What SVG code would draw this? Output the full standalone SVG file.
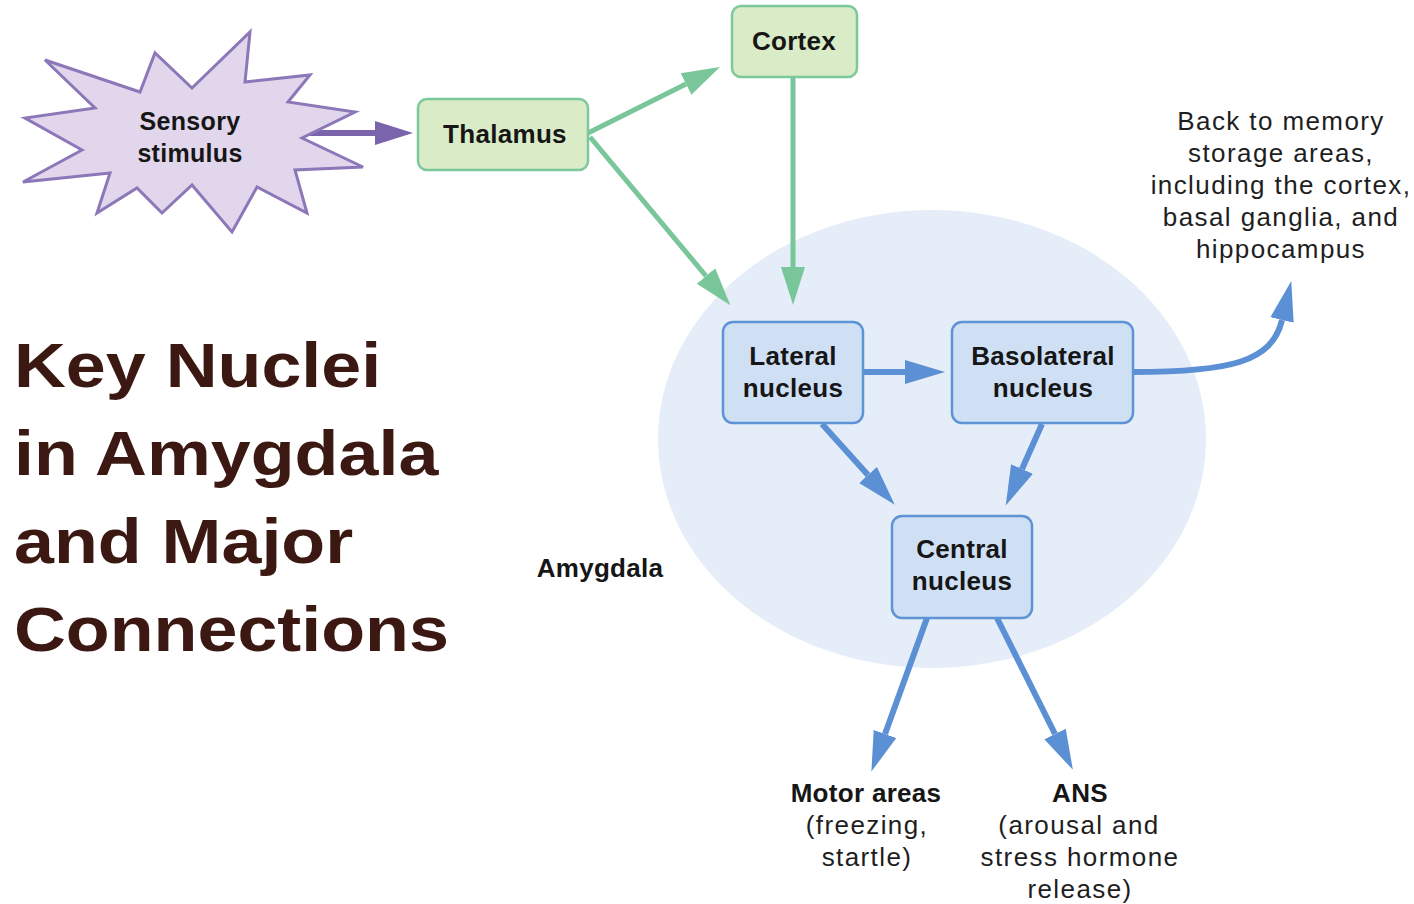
<svg xmlns="http://www.w3.org/2000/svg" width="1414" height="904" viewBox="0 0 1414 904">
  <style>
    .lbl { font-family: "Liberation Sans", Arial, sans-serif; font-weight: bold; font-size: 26px; fill: #161616; text-anchor: middle; letter-spacing: 0.3px; }
    .note { font-family: "Liberation Sans", Arial, sans-serif; font-size: 26px; fill: #1e1e1e; text-anchor: middle; letter-spacing: 1.4px; }
    .title { font-family: "Liberation Sans", Arial, sans-serif; font-weight: bold; font-size: 63px; fill: #3b1912; }
    .gbox { fill: #d9ecc7; stroke: #7cc89b; stroke-width: 2.5; }
    .bbox { fill: #cfe0f5; stroke: #5e93d6; stroke-width: 2.5; }
    .garr { fill: none; stroke: #79c69a; stroke-width: 5; }
    .barr { fill: none; stroke: #5b90d5; stroke-width: 6; }
    .parr { fill: none; stroke: #7a64ac; stroke-width: 6; }
  </style>
  <defs>
    <marker id="headGreen" markerUnits="userSpaceOnUse" markerWidth="40" markerHeight="26" refX="0" refY="13" orient="auto" viewBox="0 0 40 26">
      <path d="M0,1 L38,13 L0,25 z" fill="#79c69a"/>
    </marker>
    <marker id="headBlue" markerUnits="userSpaceOnUse" markerWidth="42" markerHeight="26" refX="0" refY="13" orient="auto" viewBox="0 0 42 26">
      <path d="M0,1 L40,13 L0,25 z" fill="#5b90d5"/>
    </marker>
    <marker id="headPurple" markerUnits="userSpaceOnUse" markerWidth="40" markerHeight="26" refX="0" refY="13" orient="auto" viewBox="0 0 40 26">
      <path d="M0,1 L38,13 L0,25 z" fill="#7a64ac"/>
    </marker>
  </defs>

  <rect width="1414" height="904" fill="#ffffff"/>

  <!-- amygdala region -->
  <g id="amygdala">
    <ellipse cx="932" cy="439" rx="274" ry="229" fill="#e5edf8"/>
    <text class="lbl" x="600" y="577">Amygdala</text>
  </g>

  <!-- title, widened horizontally -->
  <g id="title" transform="translate(14,0) scale(1.14,1)">
    <text class="title" x="0" y="387">Key Nuclei</text>
    <text class="title" x="0" y="475">in Amygdala</text>
    <text class="title" x="0" y="563">and Major</text>
    <text class="title" x="0" y="651">Connections</text>
  </g>

  <!-- connectors -->
  <g id="connectors">
    <path class="parr" d="M305,133 L375,133" marker-end="url(#headPurple)"/>
    <path class="garr" d="M588,133 L686,84" marker-end="url(#headGreen)"/>
    <path class="garr" d="M590,137 L706,276" marker-end="url(#headGreen)"/>
    <path class="garr" d="M793,77 L793,267" marker-end="url(#headGreen)"/>
    <path class="barr" d="M863,372 L905,372" marker-end="url(#headBlue)"/>
    <path class="barr" d="M822,424 L868,475" marker-end="url(#headBlue)"/>
    <path class="barr" d="M1042,424 L1022,469" marker-end="url(#headBlue)"/>
    <path class="barr" d="M927,618 L885,734" marker-end="url(#headBlue)"/>
    <path class="barr" d="M997,618 L1055,734" marker-end="url(#headBlue)"/>
    <path class="barr" d="M1133,372 C1230,372 1272,362 1282,320" marker-end="url(#headBlue)"/>
  </g>

  <!-- sensory stimulus -->
  <g id="stimulus">
    <polygon points="45,60 140,92 155,53 192,88 250,32 245,82 310,75 288,102 355,112 302,138 363,167 295,170 307,213 257,187 232,232 192,185 162,213 137,188 97,213 110,173 23,182 82,150 25,118 95,108" fill="#e2d6ec" stroke="#8c78b8" stroke-width="3" stroke-linejoin="miter"/>
    <text class="lbl" x="190" y="130" style="font-size:25px">Sensory</text>
    <text class="lbl" x="190" y="162" style="font-size:25px">stimulus</text>
  </g>

  <g id="thalamus">
    <rect class="gbox" x="418" y="99" width="170" height="71" rx="9"/>
    <text class="lbl" x="505" y="143">Thalamus</text>
  </g>

  <g id="cortex">
    <rect class="gbox" x="732" y="6" width="125" height="71" rx="9"/>
    <text class="lbl" x="794" y="50">Cortex</text>
  </g>

  <g id="lateral">
    <rect class="bbox" x="723" y="322" width="140" height="101" rx="10"/>
    <text class="lbl" x="793" y="365">Lateral</text>
    <text class="lbl" x="793" y="397">nucleus</text>
  </g>

  <g id="basolateral">
    <rect class="bbox" x="952" y="322" width="181" height="101" rx="10"/>
    <text class="lbl" x="1043" y="365">Basolateral</text>
    <text class="lbl" x="1043" y="397">nucleus</text>
  </g>

  <g id="central">
    <rect class="bbox" x="892" y="516" width="140" height="102" rx="10"/>
    <text class="lbl" x="962" y="558">Central</text>
    <text class="lbl" x="962" y="590">nucleus</text>
  </g>

  <g id="memory">
    <text class="note" x="1281" y="130">Back to memory</text>
    <text class="note" x="1281" y="162">storage areas,</text>
    <text class="note" x="1281" y="194">including the cortex,</text>
    <text class="note" x="1281" y="226">basal ganglia, and</text>
    <text class="note" x="1281" y="258">hippocampus</text>
  </g>

  <g id="motor">
    <text class="lbl" x="866" y="802">Motor areas</text>
    <text class="note" x="867" y="834">(freezing,</text>
    <text class="note" x="867" y="866">startle)</text>
  </g>

  <g id="ans">
    <text class="lbl" x="1080" y="802">ANS</text>
    <text class="note" x="1079" y="834">(arousal and</text>
    <text class="note" x="1080" y="866">stress hormone</text>
    <text class="note" x="1080" y="898">release)</text>
  </g>
</svg>
